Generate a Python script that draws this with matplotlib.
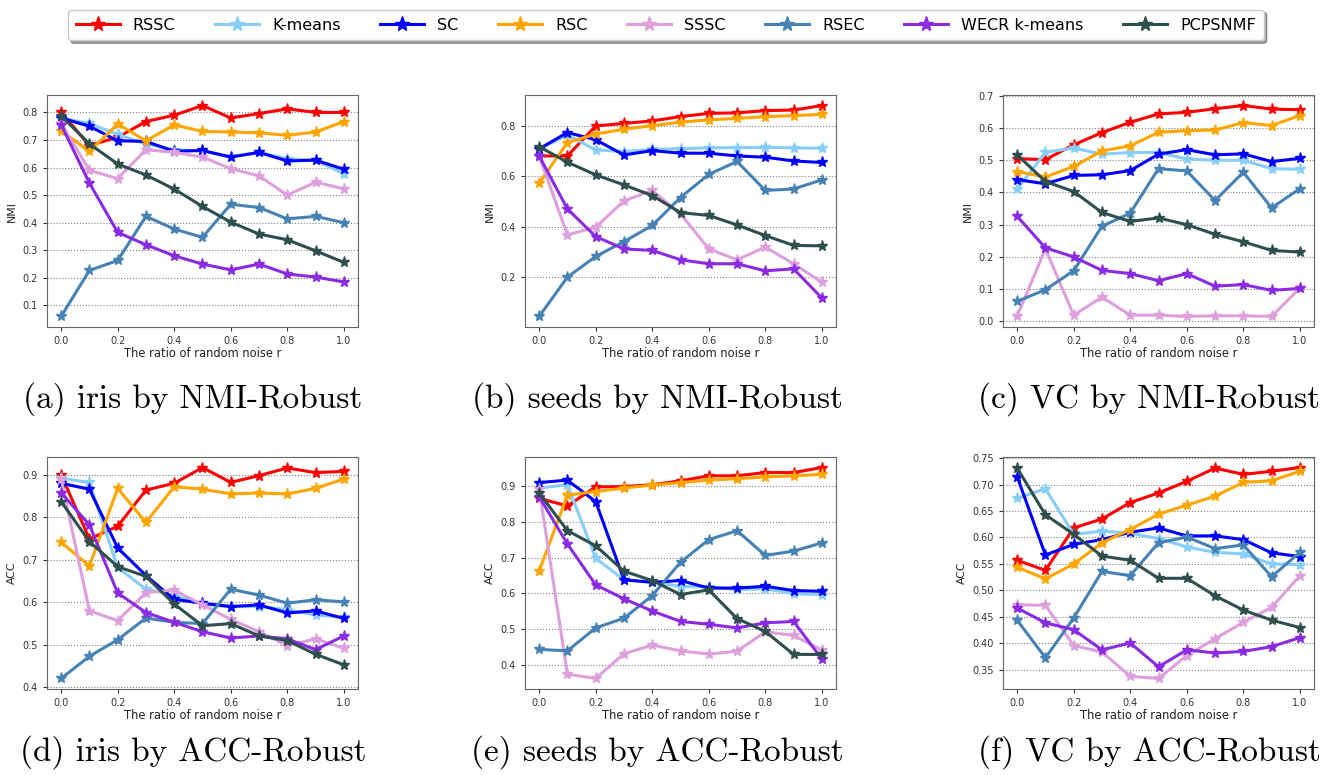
import matplotlib
matplotlib.use("Agg")
import matplotlib.pyplot as plt
from matplotlib.lines import Line2D

# noise ratio r on the x axis
r = [0.0, 0.1, 0.2, 0.3, 0.4, 0.5, 0.6, 0.7, 0.8, 0.9, 1.0]

methods = ["RSSC", "K-means", "SC", "RSC", "SSSC", "RSEC", "WECR k-means", "PCPSNMF"]
colors = ["red", "lightskyblue", "blue", "orange", "plum", "steelblue", "blueviolet", "darkslategray"]

# (a) iris NMI
iris_nmi = {
    "RSSC":         [0.80, 0.68, 0.71, 0.767, 0.79, 0.825, 0.78, 0.796, 0.813, 0.80, 0.80],
    "K-means":      [0.78, 0.76, 0.72, 0.685, 0.665, 0.66, 0.64, 0.655, 0.632, 0.626, 0.578],
    "SC":           [0.78, 0.75, 0.697, 0.695, 0.659, 0.662, 0.638, 0.655, 0.624, 0.627, 0.594],
    "RSC":          [0.733, 0.659, 0.758, 0.697, 0.755, 0.731, 0.729, 0.726, 0.717, 0.729, 0.767],
    "SSSC":         [0.76, 0.59, 0.56, 0.665, 0.655, 0.638, 0.596, 0.57, 0.50, 0.547, 0.523],
    "RSEC":         [0.06, 0.227, 0.263, 0.423, 0.377, 0.347, 0.467, 0.455, 0.414, 0.423, 0.40],
    "WECR k-means": [0.755, 0.544, 0.365, 0.32, 0.28, 0.25, 0.229, 0.25, 0.214, 0.203, 0.185],
    "PCPSNMF":      [0.788, 0.686, 0.613, 0.573, 0.522, 0.459, 0.402, 0.359, 0.338, 0.298, 0.256],
}

# (b) seeds NMI
seeds_nmi = {
    "RSSC":         [0.681, 0.681, 0.80, 0.81, 0.82, 0.837, 0.85, 0.852, 0.861, 0.863, 0.881],
    "K-means":      [0.709, 0.764, 0.705, 0.698, 0.707, 0.71, 0.713, 0.714, 0.715, 0.713, 0.711],
    "SC":           [0.709, 0.774, 0.745, 0.685, 0.702, 0.692, 0.692, 0.681, 0.676, 0.661, 0.655],
    "RSC":          [0.573, 0.734, 0.768, 0.787, 0.801, 0.815, 0.824, 0.83, 0.837, 0.841, 0.846],
    "SSSC":         [0.681, 0.368, 0.398, 0.503, 0.544, 0.451, 0.312, 0.269, 0.319, 0.253, 0.18],
    "RSEC":         [0.044, 0.20, 0.282, 0.341, 0.405, 0.516, 0.608, 0.659, 0.544, 0.55, 0.586],
    "WECR k-means": [0.681, 0.471, 0.361, 0.312, 0.306, 0.269, 0.253, 0.253, 0.225, 0.233, 0.117],
    "PCPSNMF":      [0.718, 0.656, 0.606, 0.566, 0.524, 0.456, 0.445, 0.407, 0.365, 0.326, 0.324],
}

# (c) VC NMI
vc_nmi = {
    "RSSC":         [0.505, 0.502, 0.548, 0.586, 0.618, 0.644, 0.649, 0.66, 0.67, 0.659, 0.657],
    "K-means":      [0.41, 0.525, 0.538, 0.519, 0.524, 0.524, 0.504, 0.50, 0.50, 0.474, 0.472],
    "SC":           [0.44, 0.427, 0.453, 0.455, 0.468, 0.519, 0.533, 0.517, 0.52, 0.496, 0.506],
    "RSC":          [0.465, 0.448, 0.481, 0.529, 0.545, 0.587, 0.592, 0.594, 0.617, 0.608, 0.639],
    "SSSC":         [0.016, 0.225, 0.019, 0.075, 0.019, 0.019, 0.015, 0.017, 0.017, 0.015, 0.103],
    "RSEC":         [0.062, 0.098, 0.157, 0.295, 0.336, 0.474, 0.467, 0.375, 0.463, 0.352, 0.412],
    "WECR k-means": [0.326, 0.228, 0.20, 0.158, 0.148, 0.126, 0.148, 0.109, 0.114, 0.096, 0.102],
    "PCPSNMF":      [0.517, 0.434, 0.403, 0.338, 0.31, 0.321, 0.30, 0.27, 0.247, 0.22, 0.215],
}

# (d) iris ACC
iris_acc = {
    "RSSC":         [0.90, 0.749, 0.779, 0.864, 0.88, 0.917, 0.882, 0.898, 0.916, 0.905, 0.908],
    "K-means":      [0.892, 0.882, 0.682, 0.631, 0.617, 0.595, 0.59, 0.59, 0.583, 0.57, 0.565],
    "SC":           [0.88, 0.866, 0.728, 0.663, 0.607, 0.598, 0.59, 0.594, 0.575, 0.58, 0.562],
    "RSC":          [0.741, 0.686, 0.868, 0.788, 0.872, 0.866, 0.855, 0.857, 0.855, 0.868, 0.89],
    "SSSC":         [0.89, 0.58, 0.557, 0.623, 0.629, 0.594, 0.56, 0.531, 0.498, 0.514, 0.492],
    "RSEC":         [0.421, 0.473, 0.512, 0.563, 0.553, 0.55, 0.631, 0.617, 0.598, 0.606, 0.601],
    "WECR k-means": [0.858, 0.782, 0.622, 0.576, 0.553, 0.531, 0.516, 0.521, 0.514, 0.489, 0.521],
    "PCPSNMF":      [0.837, 0.743, 0.684, 0.661, 0.596, 0.545, 0.55, 0.521, 0.51, 0.478, 0.453],
}

# (e) seeds ACC
seeds_acc = {
    "RSSC":         [0.865, 0.844, 0.897, 0.898, 0.903, 0.914, 0.928, 0.928, 0.937, 0.937, 0.951],
    "K-means":      [0.894, 0.903, 0.698, 0.638, 0.633, 0.619, 0.618, 0.611, 0.613, 0.599, 0.597],
    "SC":           [0.909, 0.916, 0.856, 0.638, 0.631, 0.636, 0.615, 0.615, 0.62, 0.608, 0.606],
    "RSC":          [0.662, 0.874, 0.884, 0.894, 0.902, 0.909, 0.916, 0.92, 0.925, 0.928, 0.932],
    "SSSC":         [0.891, 0.375, 0.363, 0.432, 0.456, 0.44, 0.431, 0.439, 0.493, 0.483, 0.442],
    "RSEC":         [0.444, 0.44, 0.504, 0.531, 0.594, 0.687, 0.75, 0.775, 0.706, 0.718, 0.741],
    "WECR k-means": [0.87, 0.738, 0.624, 0.585, 0.551, 0.522, 0.514, 0.504, 0.518, 0.522, 0.417],
    "PCPSNMF":      [0.88, 0.775, 0.733, 0.662, 0.636, 0.597, 0.61, 0.53, 0.494, 0.43, 0.43],
}

# (f) VC ACC
vc_acc = {
    "RSSC":         [0.557, 0.538, 0.618, 0.635, 0.666, 0.684, 0.706, 0.731, 0.719, 0.725, 0.732],
    "K-means":      [0.674, 0.692, 0.606, 0.612, 0.608, 0.598, 0.582, 0.572, 0.569, 0.55, 0.549],
    "SC":           [0.715, 0.567, 0.587, 0.596, 0.61, 0.618, 0.603, 0.603, 0.596, 0.571, 0.564],
    "RSC":          [0.544, 0.522, 0.55, 0.59, 0.615, 0.644, 0.661, 0.678, 0.704, 0.707, 0.725],
    "SSSC":         [0.473, 0.472, 0.396, 0.384, 0.338, 0.334, 0.377, 0.409, 0.44, 0.468, 0.528],
    "RSEC":         [0.444, 0.373, 0.448, 0.536, 0.528, 0.59, 0.601, 0.579, 0.586, 0.526, 0.572],
    "WECR k-means": [0.467, 0.439, 0.426, 0.388, 0.401, 0.356, 0.388, 0.382, 0.385, 0.394, 0.411],
    "PCPSNMF":      [0.731, 0.643, 0.606, 0.565, 0.557, 0.523, 0.523, 0.49, 0.463, 0.444, 0.43],
}

panels = [
    (iris_nmi, "NMI", "(a) iris by NMI-Robust"),
    (seeds_nmi, "NMI", "(b) seeds by NMI-Robust"),
    (vc_nmi, "NMI", "(c) VC by NMI-Robust"),
    (iris_acc, "ACC", "(d) iris by ACC-Robust"),
    (seeds_acc, "ACC", "(e) seeds by ACC-Robust"),
    (vc_acc, "ACC", "(f) VC by ACC-Robust"),
]

W, H = 1333, 775
fig = plt.figure(figsize=(W / 100, H / 100), dpi=100)

lefts = [47, 525, 1003]
tops = [95, 457]
aw, ah = 311, 232
cap_x = [193, 657, 1149]
cap_y = [399, 752]

for k, (data, ylab, cap) in enumerate(panels):
    row, col = divmod(k, 3)
    l, t = lefts[col], tops[row]
    ax = fig.add_axes([l / W, (H - t - ah) / H, aw / W, ah / H])
    for m, c in zip(methods, colors):
        ax.plot(r, data[m], color=c, lw=2.2, marker="*", ms=8)
    ax.set_xticks([0.0, 0.2, 0.4, 0.6, 0.8, 1.0])
    ax.grid(axis="y", ls=":", color="gray", lw=0.8)
    ax.tick_params(labelsize=7, colors="#333333", length=3)
    for s in ax.spines.values():
        s.set_color("#666666")
    ax.set_xlabel("The ratio of random noise r", fontsize=8.3, color="#222222", labelpad=1)
    ax.set_ylabel(ylab, fontsize=7.8, color="#222222")
    fig.text(cap_x[col] / W, 1 - cap_y[row] / H, cap, family="cmr10",
             fontsize=24, ha="center", va="center")

handles = [Line2D([], [], color=c, lw=2.2, marker="*", ms=11) for c in colors]
fig.legend(handles, methods, loc="center", bbox_to_anchor=(666 / W, 1 - 25 / H),
           ncol=8, fontsize=11.5, frameon=True, shadow=True, fancybox=True,
           handlelength=2.75, handletextpad=0.8, columnspacing=2.5, borderpad=0.5)

fig.savefig("out.png", dpi=100)
